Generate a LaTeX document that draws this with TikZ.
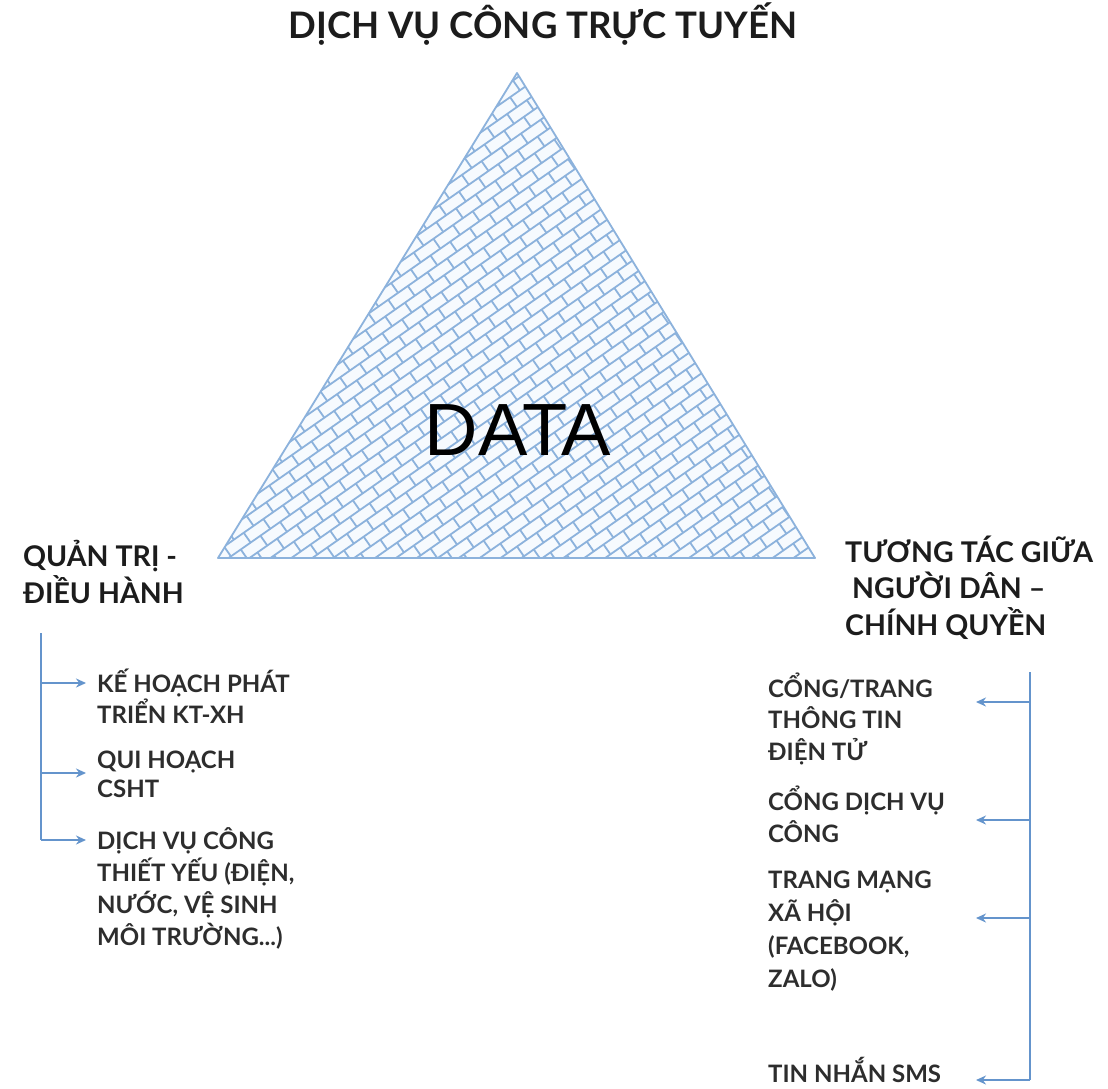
\documentclass[tikz,border=0pt]{standalone}
\usepackage{fontspec}
\setmainfont{Lato}
\newfontfamily\arialfont{Liberation Sans}
\usetikzlibrary{arrows.meta}
\definecolor{mortar}{RGB}{140,178,220}
\definecolor{brickfill}{RGB}{246,250,254}
\definecolor{arrowblue}{RGB}{100,148,204}
\definecolor{txt}{RGB}{28,28,28}
\definecolor{itemtxt}{RGB}{45,45,45}
\tikzset{
  titlestyle/.style={anchor=base, text=txt, font=\fontsize{36.5}{42}\selectfont\bfseries},
  datastyle/.style={anchor=base, text=black, font=\arialfont\fontsize{74}{80}\selectfont},
  headstyle/.style={anchor=base west, align=left, text=txt, inner sep=0pt, font=\fontsize{28.5}{36.5}\selectfont\bfseries},
  itemstyle/.style={anchor=base west, align=left, text=itemtxt, inner sep=0pt, font=\fontsize{24}{31.5}\selectfont\bfseries},
  trunk/.style={draw=arrowblue, line width=2pt},
  branch/.style={draw=arrowblue, line width=2pt, -{Stealth[length=10pt,width=9pt]}},
}
\begin{document}
\begin{tikzpicture}[x=1pt,y=1pt]
\useasboundingbox (0,0) rectangle (1108,-1088);
\fill[white] (0,0) rectangle (1108,-1088);
% triangle
\coordinate (apex) at (517,-73);
\coordinate (bl) at (218,-558);
\coordinate (br) at (815,-558);
\fill[brickfill] (apex) -- (bl) -- (br) -- cycle;
\begin{scope}
  \clip (apex) -- (bl) -- (br) -- cycle;
  \begin{scope}[shift={(517,-400)}, rotate=35]
    \draw[mortar, line width=1.8pt] foreach \j in {-36,...,36} {(-520,\j*12) -- (520,\j*12)};
    \draw[mortar, line width=1.8pt] foreach \j in {-36,-34,...,36} { foreach \i in {-22,...,22} {(\i*24,\j*12) -- ++(0,12)} };
    \draw[mortar, line width=1.8pt] foreach \j in {-35,-33,...,35} { foreach \i in {-22,...,22} {(\i*24+12,\j*12) -- ++(0,12)} };
  \end{scope}
\end{scope}
\draw[mortar, line width=1.8pt, line join=round] (apex) -- (bl) -- (br) -- cycle;

\node[titlestyle] (title) at (543,-38) {DỊCH VỤ CÔNG TRỰC TUYẾN};
\node[datastyle] (data) at (518,-455) {DATA};

\node[headstyle] (qt) at (23,-603) {QUẢN TRỊ -\\ĐIỀU HÀNH};
\node[headstyle] (tt) at (845,-635) {TƯƠNG TÁC GIỮA\\\hspace{7pt}NGƯỜI DÂN –\\CHÍNH QUYỀN};

% left items
\node[itemstyle, font=\fontsize{24}{27}\selectfont\bfseries] (l1) at (97,-723) {KẾ HOẠCH PHÁT\\TRIỂN KT-XH};
\node[itemstyle, font=\fontsize{24}{29}\selectfont\bfseries] (l2) at (97,-797) {QUI HOẠCH\\CSHT};
\node[itemstyle, font=\fontsize{24}{32}\selectfont\bfseries] (l3) at (97,-945) {DỊCH VỤ CÔNG\\THIẾT YẾU (ĐIỆN,\\NƯỚC, VỆ SINH\\MÔI TRƯỜNG...)};

\coordinate (lt0) at (41,-633);
\coordinate (lt1) at (41,-683);
\coordinate (lt2) at (41,-773);
\coordinate (lt3) at (41,-840);
\coordinate (la1) at (86,-683);
\coordinate (la2) at (86,-773);
\coordinate (la3) at (86,-840);
\draw[trunk] (lt0) -- (lt3);
\draw[branch] (lt1) -- (la1);
\draw[branch] (lt2) -- (la2);
\draw[branch] (lt3) -- (la3);

% right items
\node[itemstyle] (r1) at (768,-760) {CỔNG/TRANG\\THÔNG TIN\\ĐIỆN TỬ};
\node[itemstyle, font=\fontsize{24}{32}\selectfont\bfseries] (r2) at (768,-842) {CỔNG DỊCH VỤ\\CÔNG};
\node[itemstyle, font=\fontsize{24}{33}\selectfont\bfseries] (r3) at (768,-987) {TRANG MẠNG\\XÃ HỘI\\(FACEBOOK,\\ZALO)};
\node[itemstyle] (r4) at (768,-1082) {TIN NHẮN SMS};

\coordinate (rt0) at (1030,-672);
\coordinate (rt1) at (1030,-702);
\coordinate (rt2) at (1030,-820);
\coordinate (rt3) at (1030,-918);
\coordinate (rt4) at (1030,-1080);
\coordinate (ra1) at (976,-702);
\coordinate (ra2) at (976,-820);
\coordinate (ra3) at (976,-918);
\coordinate (ra4) at (976,-1080);
\draw[trunk] (rt0) -- (rt4);
\draw[branch] (rt1) -- (ra1);
\draw[branch] (rt2) -- (ra2);
\draw[branch] (rt3) -- (ra3);
\draw[branch] (rt4) -- (ra4);
\end{tikzpicture}
\end{document}
